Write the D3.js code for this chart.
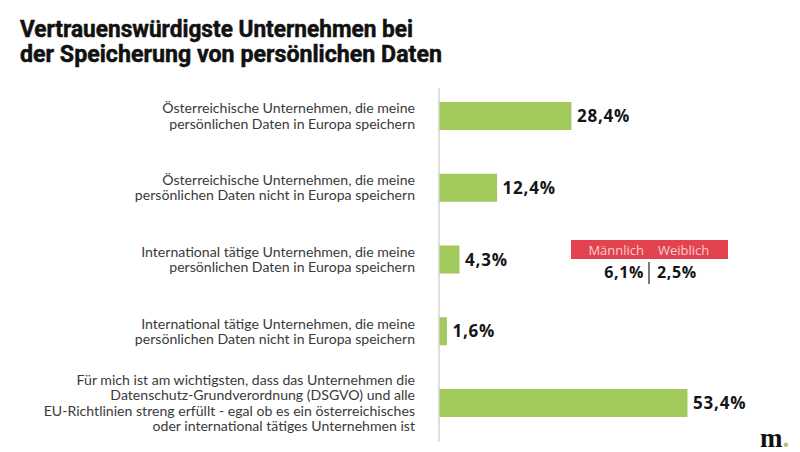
<!DOCTYPE html>
<html><head><meta charset="utf-8">
<script src="https://cdn.jsdelivr.net/npm/d3@7"></script>
<style>
html,body{margin:0;padding:0;background:#fff;}
svg{display:block;}
</style></head>
<body>
<svg id="chart" width="800" height="452"></svg>
<script>
const titleLines = ["Vertrauenswürdigste Unternehmen bei", "der Speicherung von persönlichen Daten"];
const categories = [
  ["Österreichische Unternehmen, die meine", "persönlichen Daten in Europa speichern"],
  ["Österreichische Unternehmen, die meine", "persönlichen Daten nicht in Europa speichern"],
  ["International tätige Unternehmen, die meine", "persönlichen Daten in Europa speichern"],
  ["International tätige Unternehmen, die meine", "persönlichen Daten nicht in Europa speichern"],
  ["Für mich ist am wichtigsten, dass das Unternehmen die", "Datenschutz-Grundverordnung (DSGVO) und alle", "EU-Richtlinien streng erfüllt - egal ob es ein österreichisches", "oder international tätiges Unternehmen ist"]
];
const values = [28.4, 12.4, 4.3, 1.6, 53.4];
const genderLabels = ["Männlich", "Weiblich"];
const genderValues = [6.1, 2.5];

const fmt = v => d3.format(".1f")(v).replace(".", ",") + "%";

const svg = d3.select("#chart");

// Title
const titleWidths = [393, 422];
svg.append("g").selectAll("text").data(titleLines).join("text")
  .attr("x", 20).attr("y", (d, i) => 37 + i * 25)
  .attr("font-family", "'Liberation Sans Narrow', 'Roboto', sans-serif")
  .attr("font-weight", 700).attr("font-size", 23)
  .attr("fill", "#111").attr("stroke", "#111").attr("stroke-width", 0.5)
  .attr("textLength", (d, i) => titleWidths[i])
  .attr("lengthAdjust", "spacingAndGlyphs")
  .text(d => d);

const x = d3.scaleLinear().domain([0, 53.4]).range([439, 687]);
const y = d3.scaleBand().domain(d3.range(categories.length))
  .range([102, 417]).paddingInner(0.61).paddingOuter(0);

// axis line
svg.append("line")
  .attr("x1", x(0)).attr("x2", x(0))
  .attr("y1", 88).attr("y2", 442)
  .attr("stroke", "#d4d4d4").attr("stroke-width", 1.5);

// bars
svg.append("g").selectAll("rect").data(values).join("rect")
  .attr("x", x(0) + 0.5)
  .attr("y", (d, i) => y(i))
  .attr("width", d => x(d) - x(0))
  .attr("height", y.bandwidth())
  .attr("fill", "#a2c95c");

// value labels
svg.append("g").selectAll("text").data(values).join("text")
  .attr("x", d => x(d) + 6)
  .attr("y", (d, i) => y(i) + y.bandwidth() / 2 + 6)
  .attr("font-family", "'Open Sans', sans-serif")
  .attr("font-weight", 700).attr("font-size", 17)
  .attr("letter-spacing", 0.8)
  .attr("fill", "#151515")
  .text(d => fmt(d));

// category labels
const lineH = 15.4;
const cat = svg.append("g").selectAll("text").data(categories).join("text")
  .attr("text-anchor", "end")
  .attr("font-family", "Lato, 'Open Sans', sans-serif")
  .attr("font-size", 14.1)
  .attr("fill", "#3a3a3a");
cat.each(function(lines, i) {
  const cy = y(i) + y.bandwidth() / 2;
  const top = cy - (lines.length - 1) * lineH / 2 + 5;
  d3.select(this).selectAll("tspan").data(lines).join("tspan")
    .attr("x", 415)
    .attr("y", (d, j) => top + j * lineH)
    .text(d => d);
});

// gender breakdown box
const gx = 649;
svg.append("rect").attr("x", 571).attr("y", 240).attr("width", 157).attr("height", 19)
  .attr("fill", "#e2434f");
svg.append("g").selectAll("text").data(genderLabels).join("text")
  .attr("x", (d, i) => i === 0 ? gx - 5 : gx + 9)
  .attr("y", 255)
  .attr("text-anchor", (d, i) => i === 0 ? "end" : "start")
  .attr("font-family", "'Open Sans', sans-serif")
  .attr("font-size", 13)
  .attr("fill", "#f7cdd0")
  .text(d => d);
svg.append("g").selectAll("text").data(genderValues).join("text")
  .attr("x", (d, i) => i === 0 ? gx - 5 : gx + 8)
  .attr("y", 278)
  .attr("text-anchor", (d, i) => i === 0 ? "end" : "start")
  .attr("font-family", "'Open Sans', sans-serif")
  .attr("font-weight", 700).attr("font-size", 16)
  .attr("letter-spacing", 0.6)
  .attr("fill", "#151515")
  .text(d => fmt(d));
svg.append("line").attr("x1", gx).attr("x2", gx).attr("y1", 262).attr("y2", 284)
  .attr("stroke", "#222").attr("stroke-width", 1.2);

// logo
const logo = svg.append("text").attr("x", 760).attr("y", 447)
  .attr("font-family", "'Liberation Serif', 'DejaVu Serif', serif")
  .attr("font-weight", 700).attr("font-size", 27);
logo.append("tspan").attr("fill", "#111").text("m");
logo.append("tspan").attr("fill", "#a2c95c").text(".");
</script>
</body></html>
